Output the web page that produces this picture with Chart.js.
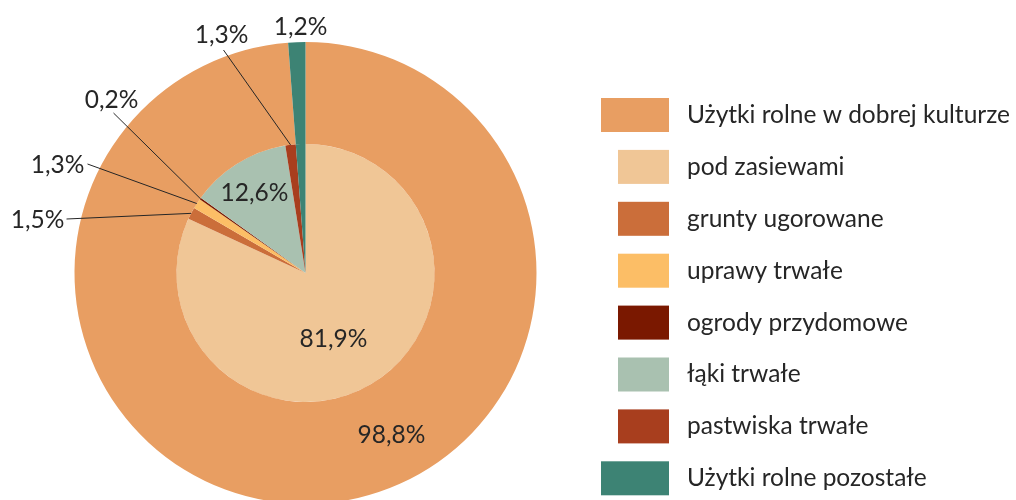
<!DOCTYPE html>
<html>
<head>
<meta charset="utf-8">
<script src="https://cdn.jsdelivr.net/npm/chart.js@4.4.0/dist/chart.umd.min.js"></script>
<style>
html, body { margin: 0; padding: 0; background: #fff; overflow: hidden; width: 1016px; height: 500px; }
#wrap { width: 1016px; height: 520px; }
</style>
</head>
<body>
<div id="wrap"><canvas id="LandChart"></canvas></div>
<script>
var OuterNames = ['Użytki rolne w dobrej kulturze', 'Użytki rolne pozostałe'];
var OuterValues = [98.8, 1.2];
var InnerNames = ['pod zasiewami', 'grunty ugorowane', 'uprawy trwałe', 'ogrody przydomowe', 'łąki trwałe', 'pastwiska trwałe'];
var InnerValues = [81.9, 1.5, 1.3, 0.2, 12.6, 1.3];

var OuterColors = ['#E89E62', '#3D8374'];
var InnerColors = ['#F0C696', '#CB6E3A', '#FCBE66', '#7A1800', '#A9C1B0', '#A83E1E'];

var FontName = 'Lato';
var TextColor = '#262626';

// label centres, relative to the pie centre (px); line = end point of leader line
var OuterLabelPos = [{x: 86, y: 162}, {x: -5, y: -246}];
var InnerLabelPos = [
    {x: 28, y: 66},
    {x: -268, y: -53, line: {x: -239, y: -54}},
    {x: -248, y: -108, line: {x: -218, y: -109}},
    {x: -194, y: -173, line: {x: -192, y: -160}},
    {x: -51, y: -80},
    {x: -84, y: -238, line: {x: -82, y: -223}}
];

function fmt(v) {
    return v.toFixed(1).replace('.', ',') + '%';
}

var pieLabels = {
    id: 'pieLabels',
    afterDatasetsDraw: function(chart) {
        var ctx = chart.ctx;
        var outerMeta = chart.getDatasetMeta(0);
        var innerMeta = chart.getDatasetMeta(1);
        var cx = outerMeta.data[0].x, cy = outerMeta.data[0].y;
        ctx.save();
        ctx.font = '24.5px ' + FontName;
        ctx.fillStyle = TextColor;
        ctx.strokeStyle = TextColor;
        ctx.lineWidth = 1;
        ctx.textAlign = 'center';
        ctx.textBaseline = 'middle';
        OuterValues.forEach(function(v, i) {
            var p = OuterLabelPos[i];
            ctx.fillText(fmt(v), cx + p.x, cy + p.y);
        });
        InnerValues.forEach(function(v, i) {
            var p = InnerLabelPos[i];
            var arc = innerMeta.data[i];
            if (p.line) {
                var mid = (arc.startAngle + arc.endAngle) / 2;
                ctx.beginPath();
                ctx.moveTo(arc.x + Math.cos(mid) * arc.outerRadius, arc.y + Math.sin(mid) * arc.outerRadius);
                ctx.lineTo(cx + p.line.x, cy + p.line.y);
                ctx.stroke();
            }
            ctx.fillText(fmt(v), cx + p.x, cy + p.y);
        });
        ctx.restore();
    }
};

var sideLegend = {
    id: 'sideLegend',
    afterDraw: function(chart) {
        var ctx = chart.ctx;
        var items = [{name: OuterNames[0], color: OuterColors[0], sub: false}];
        InnerNames.forEach(function(n, i) {
            items.push({name: n, color: InnerColors[i], sub: true});
        });
        items.push({name: OuterNames[1], color: OuterColors[1], sub: false});
        ctx.save();
        ctx.font = '24.5px ' + FontName;
        ctx.textBaseline = 'middle';
        ctx.textAlign = 'left';
        items.forEach(function(it, i) {
            var y = 115 + i * 51.9;
            var left = it.sub ? 618 : 601;
            ctx.fillStyle = it.color;
            ctx.fillRect(left, y - 17, 669 - left, 34);
            ctx.fillStyle = TextColor;
            ctx.fillText(it.name, 687, y);
        });
        ctx.restore();
    }
};

var ctx = document.getElementById('LandChart');
new Chart(ctx, {
    type: 'doughnut',
    data: {
        labels: OuterNames,
        datasets: [{
            data: OuterValues,
            backgroundColor: OuterColors,
            borderWidth: 0,
            weight: 102
        }, {
            data: InnerValues.concat([OuterValues[1]]),
            backgroundColor: InnerColors.concat([OuterColors[1]]),
            borderWidth: 0,
            weight: 129
        }]
    },
    options: {
        responsive: true,
        maintainAspectRatio: false,
        animation: false,
        cutout: 0,
        layout: {
            padding: {left: 74, right: 479, top: 42, bottom: 16}
        },
        plugins: {
            legend: { display: false },
            tooltip: { enabled: false }
        }
    },
    plugins: [pieLabels, sideLegend]
});
</script>
</body>
</html>
